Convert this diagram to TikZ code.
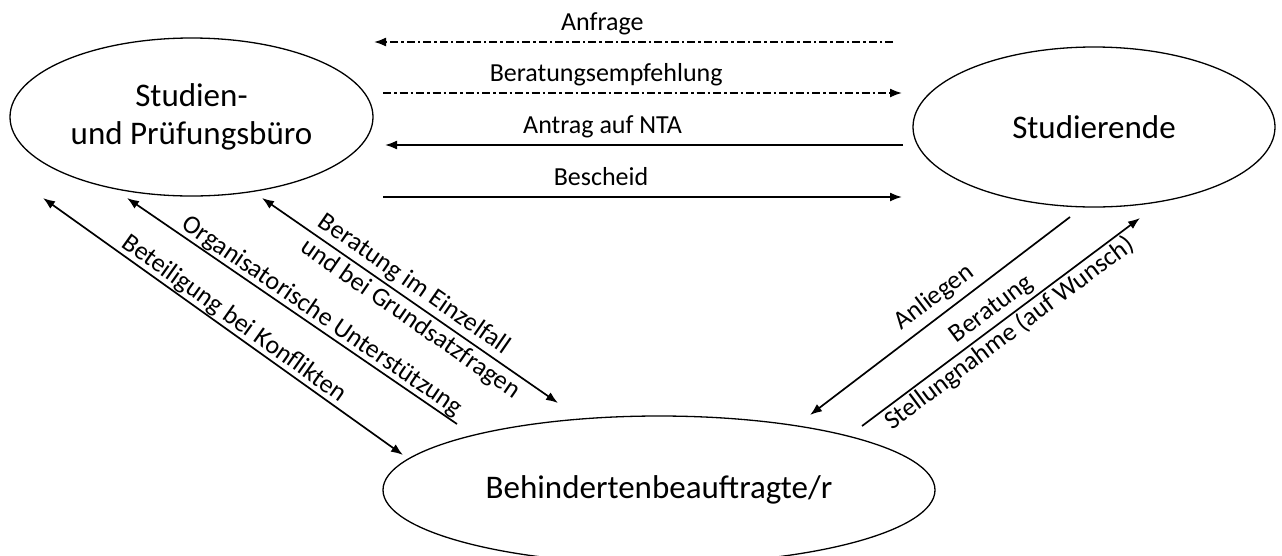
\documentclass[tikz,border=0pt]{standalone}
\usepackage{fontspec}
\setmainfont{Carlito}
\usetikzlibrary{shapes.geometric,arrows.meta}

\begin{document}
\begin{tikzpicture}[x=1pt, y=-1pt,
        >={Latex[length=12pt,width=9pt]},
        ent/.style={draw, ellipse, line width=1.3pt, inner sep=0pt, align=center,
            font=\fontsize{33}{38}\selectfont},
        lab/.style={font=\fontsize{26}{31}\selectfont},
        pfeil/.style={line width=1.7pt},
        strichpunkt/.style={dash pattern=on 8pt off 3pt on 2.5pt off 3pt}]
    \useasboundingbox (0,0) rectangle (1282,555);
    % Stellen
    \node[ent, minimum width=363pt, minimum height=158pt] (pb) at (191.5,117) {Studien-\\und Prüfungsbüro};
    \node[ent, minimum width=362pt, minimum height=160pt] (stud) at (1094,127) {Studierende};
    \node[ent, minimum width=552pt, minimum height=148pt] (bb) at (659,490) {Behindertenbeauftragte/r};
    % Enden der Pfeile
    \coordinate (anf1) at (893,42);  \coordinate (anf2) at (374,42);
    \coordinate (emp1) at (383,93);  \coordinate (emp2) at (902,93);
    \coordinate (nta1) at (903,145); \coordinate (nta2) at (385,145);
    \coordinate (bes1) at (383,197); \coordinate (bes2) at (902,197);
    \coordinate (bk1) at (43,198);   \coordinate (bk2) at (403,455);
    \coordinate (ou1) at (127,198);  \coordinate (ou2) at (457,424);
    \coordinate (be1) at (262,198);  \coordinate (be2) at (558,403);
    \coordinate (an1) at (810,415);  \coordinate (an2) at (1070,217);
    \coordinate (st1) at (862,426);  \coordinate (st2) at (1140,218);
    % oben
    \draw[pfeil, strichpunkt, ->] (anf1) -- node[lab, pos=.56, anchor=base, yshift=12pt] {Anfrage} (anf2);
    \draw[pfeil, strichpunkt, ->] (emp1) -- node[lab, pos=.43, anchor=base, yshift=12pt] {Beratungsempfehlung} (emp2);
    \draw[pfeil, ->] (nta1) -- node[lab, pos=.58, anchor=base, yshift=12pt] {Antrag auf NTA} (nta2);
    \draw[pfeil, ->] (bes1) -- node[lab, pos=.42, anchor=base, yshift=12pt] {Bescheid} (bes2);
    % links
    \draw[pfeil, <->] (bk1) -- node[lab, sloped, above, pos=.51, inner sep=.5pt] {Beteiligung bei Konflikten} (bk2);
    \draw[pfeil, <-] (ou1) -- node[lab, sloped, above, pos=.57, inner sep=.5pt] {Organisatorische Unterstützung} (ou2);
    \draw[pfeil, <->] (be1) -- node[lab, sloped, align=left, pos=.53] {Beratung im Einzelfall\\und bei Grundsatzfragen} (be2);
    % rechts
    \draw[pfeil, <-] (an1) -- node[lab, sloped, above, pos=.52, inner sep=6pt] {Anliegen} (an2);
    \draw[pfeil, ->] (st1) -- node[lab, sloped, align=center, pos=.5] {Beratung\\Stellungnahme (auf Wunsch)} (st2);
\end{tikzpicture}
\end{document}
